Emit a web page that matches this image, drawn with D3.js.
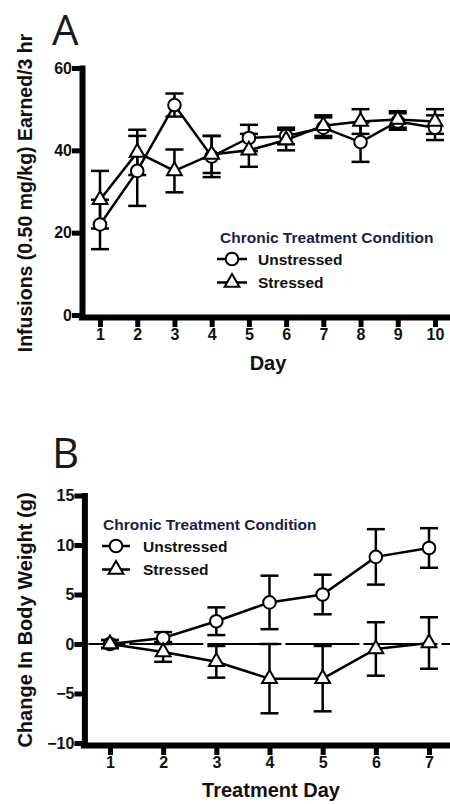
<!DOCTYPE html>
<html>
<head>
<meta charset="utf-8">
<script src="https://cdn.jsdelivr.net/npm/d3@7"></script>
<style>
  body { margin: 0; background: #fff; }
  svg { display: block; }
  text { font-family: 'Liberation Sans', Arial, sans-serif; font-weight: bold; fill: #111; }
  .letter { font-family: 'Open Sans', sans-serif; font-weight: normal; fill: #1a1a1a; }
  .legend-title { fill: #1d1d45; }
</style>
</head>
<body>
<svg id="fig" width="450" height="804"></svg>
<script>
// Panel A: infusions earned per 3 hr session, mean and SEM
const daysA = [1, 2, 3, 4, 5, 6, 7, 8, 9, 10]
const unstressedA = [22, 35, 51, 38.5, 43, 43.5, 45.5, 42, 47, 45.5]
const unstressedErrA = [6, 8.5, 2.8, 5, 3.2, 2, 2.5, 4.8, 2, 3]
const stressedA = [28, 39.5, 35, 39, 40, 42.5, 46, 47, 47.5, 47]
const stressedErrA = [7, 5.5, 5.2, 4.5, 4, 2.5, 2.5, 3, 2, 3]
const yTicksA = [0, 20, 40, 60]

// Panel B: change in body weight (g)
const daysB = [1, 2, 3, 4, 5, 6, 7]
const unstressedB = [0, 0.6, 2.3, 4.2, 5.0, 8.8, 9.7]
const unstressedErrB = [0.4, 0.6, 1.4, 2.7, 2.0, 2.8, 2.0]
const stressedB = [0, -0.8, -1.8, -3.5, -3.5, -0.5, 0.1]
const stressedErrB = [0.4, 1.0, 1.6, 3.5, 3.3, 2.7, 2.6]
const yTicksB = [-10, -5, 0, 5, 10, 15]

const groups = ['Unstressed', 'Stressed']
const legendTitle = 'Chronic Treatment Condition'

const svg = d3.select('#fig')

const shapes = {
    Unstressed: d3.symbol(d3.symbolCircle, 125),
    Stressed: d3.symbol(d3.symbolTriangle, 95)
}

function panel(settings) {
    const s = settings
    const g = svg.append('g')

    const x = d3.scaleLinear().domain(s.xDomain).range(s.xRange)
    const y = d3.scaleLinear().domain(s.yDomain).range(s.yRange)
    const axisX = x.range()[0] + s.yAxisShift

    // panel letter
    g.append('text')
        .attr('class', 'letter')
        .attr('x', s.letterPos[0])
        .attr('y', s.letterPos[1])
        .attr('font-size', 42)
        .text(s.letter)

    // dashed zero line
    if (s.zeroLine) {
        g.append('line')
            .attr('x1', axisX + 4)
            .attr('x2', 455)
            .attr('y1', y(0))
            .attr('y2', y(0))
            .attr('stroke', '#000')
            .attr('stroke-width', 2)
            .attr('stroke-dasharray', '74,4')
            .attr('stroke-dashoffset', 37)
    }

    // Axes
    const yAxis = g.append('g')
        .attr('transform', `translate(${axisX},0)`)
        .call(d3.axisLeft(y).tickValues(s.yTicks).tickFormat(d3.format('d'))
            .tickSize(10).tickSizeOuter(0).tickPadding(0))
    const xAxis = g.append('g')
        .attr('transform', `translate(0,${y.range()[0] + 2})`)
        .call(d3.axisBottom(x).tickValues(s.days).tickFormat(d3.format('d'))
            .tickSize(10).tickSizeOuter(0).tickPadding(2))

    for (const ax of [yAxis, xAxis]) {
        ax.select('.domain')
            .attr('stroke-width', 6)
            .attr('stroke-linecap', 'square')
        ax.selectAll('.tick line').attr('stroke-width', 5)
        ax.selectAll('.tick text')
            .attr('font-size', 16)
            .attr('font-family', null)
            .attr('fill', '#111')
    }

    // axis titles
    g.append('text')
        .attr('transform', `translate(${s.yLabelPos[0]},${s.yLabelPos[1]}) rotate(-90)`)
        .attr('text-anchor', 'middle')
        .attr('font-size', s.yLabelSize)
        .text(s.yLabel)
    g.append('text')
        .attr('x', s.xLabelPos[0])
        .attr('y', s.xLabelPos[1])
        .attr('text-anchor', 'middle')
        .attr('font-size', 20)
        .text(s.xLabel)

    const line = d3.line()
        .x((d, i) => x(s.days[i]))
        .y(d => y(d))

    // lines
    s.series.forEach(ser => {
        g.append('path')
            .attr('d', line(ser.values))
            .attr('fill', 'none')
            .attr('stroke', '#000')
            .attr('stroke-width', 2.5)
    })

    // error bars
    s.series.forEach(ser => {
        const bars = g.append('g').selectAll('g')
            .data(ser.values.map((v, i) => ({day: s.days[i], v, e: ser.errs[i]})))
            .enter().append('g')
            .attr('stroke', '#000')
            .attr('stroke-width', 2.5)
        bars.append('line')
            .attr('x1', d => x(d.day)).attr('x2', d => x(d.day))
            .attr('y1', d => y(d.v - d.e)).attr('y2', d => y(d.v + d.e))
        bars.append('line')
            .attr('x1', d => x(d.day) - 9).attr('x2', d => x(d.day) + 9)
            .attr('y1', d => y(d.v + d.e)).attr('y2', d => y(d.v + d.e))
        bars.append('line')
            .attr('x1', d => x(d.day) - 9).attr('x2', d => x(d.day) + 9)
            .attr('y1', d => y(d.v - d.e)).attr('y2', d => y(d.v - d.e))
    })

    // markers
    s.series.forEach(ser => {
        g.append('g').selectAll('path')
            .data(ser.values)
            .enter().append('path')
            .attr('transform', (d, i) => `translate(${x(s.days[i])},${y(d)})`)
            .attr('d', shapes[ser.name]())
            .attr('fill', '#fff')
            .attr('stroke', '#000')
            .attr('stroke-width', 2)
    })

    // Legend
    const lg = g.append('g').attr('transform', `translate(${s.legend[0]},${s.legend[1]})`)
    lg.append('text')
        .attr('class', 'legend-title')
        .attr('font-size', 15.5)
        .text(legendTitle)
    const item = lg.selectAll('.item')
        .data(groups)
        .enter().append('g')
        .attr('transform', (d, i) => `translate(0,${16 + i * 23.5})`)
    item.append('line')
        .attr('x1', s.legendLine[0]).attr('x2', s.legendLine[1])
        .attr('stroke', '#000').attr('stroke-width', 2.5)
    item.append('path')
        .attr('transform', `translate(${(s.legendLine[0] + s.legendLine[1]) / 2},0)`)
        .attr('d', d => shapes[d]())
        .attr('fill', '#fff')
        .attr('stroke', '#000')
        .attr('stroke-width', 2)
    item.append('text')
        .attr('x', s.legendText)
        .attr('y', 5.5)
        .attr('font-size', 15.5)
        .text(d => d)

    return g
}

panel({
    letter: 'A',
    letterPos: [52, 45],
    days: daysA,
    xDomain: [0.5, 10.5],
    xRange: [81.4, 453.6],
    yDomain: [0, 60],
    yRange: [315, 68],
    yAxisShift: 0.6,
    yTicks: yTicksA,
    xLabel: 'Day',
    xLabelPos: [268, 370],
    yLabel: 'Infusions (0.50 mg/kg) Earned/3 hr',
    yLabelPos: [32, 193],
    yLabelSize: 19.5,
    series: [
        {name: 'Unstressed', values: unstressedA, errs: unstressedErrA},
        {name: 'Stressed', values: stressedA, errs: stressedErrA}
    ],
    legend: [220, 243],
    legendLine: [-3, 27],
    legendText: 38
})

panel({
    letter: 'B',
    letterPos: [52, 468],
    days: daysB,
    xDomain: [0.5, 7.5],
    xRange: [83.4, 455.6],
    yDomain: [-10, 15],
    yRange: [743, 495.5],
    yAxisShift: 1,
    yTicks: yTicksB,
    zeroLine: true,
    xLabel: 'Treatment Day',
    xLabelPos: [271, 797],
    yLabel: 'Change In Body Weight (g)',
    yLabelPos: [32, 620],
    yLabelSize: 20,
    series: [
        {name: 'Unstressed', values: unstressedB, errs: unstressedErrB},
        {name: 'Stressed', values: stressedB, errs: stressedErrB}
    ],
    legend: [103, 530],
    legendLine: [-1, 27],
    legendText: 40
})
</script>
</body>
</html>
